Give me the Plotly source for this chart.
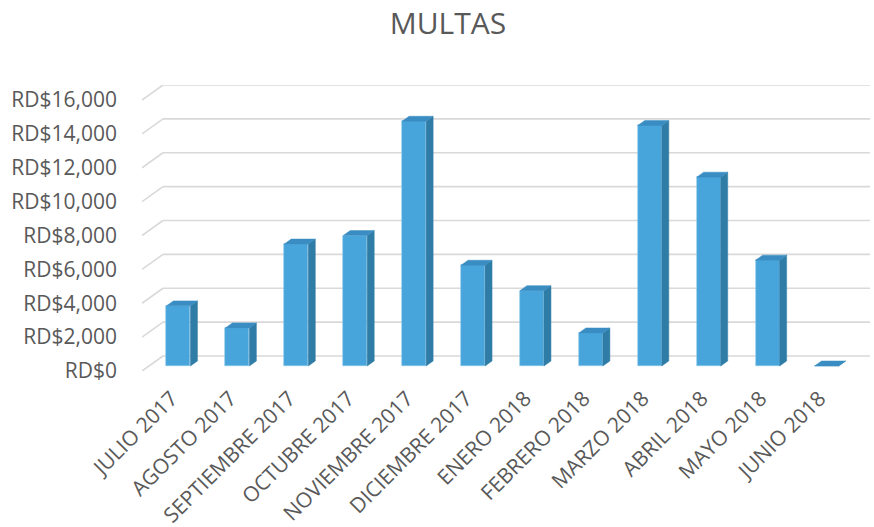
import plotly.graph_objects as go

months = ["JULIO 2017", "AGOSTO 2017", "SEPTIEMBRE 2017", "OCTUBRE 2017", "NOVIEMBRE 2017",
          "DICIEMBRE 2017", "ENERO 2018", "FEBRERO 2018", "MARZO 2018", "ABRIL 2018",
          "MAYO 2018", "JUNIO 2018"]
multas = [3550, 2250, 7200, 7700, 14450, 5950, 4450, 1950, 14200, 11150, 6250, 0]
y_ticks = [0, 2000, 4000, 6000, 8000, 10000, 12000, 14000, 16000]
y_labels = ["RD$" + f"{v:,}" for v in y_ticks]

# oblique 3-D projection parameters (axis units)
DX = 0.3565        # depth offset along x (categories)
DY = 885           # depth offset along y (value units)
BW = 0.4075        # bar width
F0, F1 = 1/3, 2/3  # bar front / back depth fraction

FRONT = "#47A5DC"
SIDE = "#2F7DA6"
TOP = "#3A8DC2"
GRID = "#D9D9D9"
TXT = "#595959"

fig = go.Figure()

# back wall gridlines + left wall diagonals
shapes = []
for v in y_ticks:
    shapes.append(dict(type="line", xref="x", yref="y", x0=-0.5 + DX, x1=11.5 + DX,
                       y0=v + DY, y1=v + DY, line=dict(color=GRID, width=1.6), layer="below"))
    shapes.append(dict(type="line", xref="x", yref="y", x0=-0.5, x1=-0.5 + DX,
                       y0=v, y1=v + DY, line=dict(color=GRID, width=1.6), layer="below"))

xs = list(range(len(months)))

# front faces
fig.add_trace(go.Bar(
    x=[i + DX * F0 for i in xs], y=multas, base=DY * F0, width=BW,
    marker=dict(color=FRONT, line=dict(color="#8CC6EA", width=0.6)),
    hoverinfo="skip", showlegend=False))

# side and top faces
sx, sy, tx, ty = [], [], [], []
for i, v in zip(xs, multas):
    xl = i + DX * F0 - BW / 2
    xr = i + DX * F0 + BW / 2
    b0 = DY * F0
    t0 = DY * F0 + v
    ddx = DX * (F1 - F0)
    ddy = DY * (F1 - F0)
    sx += [xr, xr + ddx, xr + ddx, xr, xr, None]
    sy += [b0, b0 + ddy, t0 + ddy, t0, b0, None]
    tx += [xl, xr, xr + ddx, xl + ddx, xl, None]
    ty += [t0, t0, t0 + ddy, t0 + ddy, t0, None]

fig.add_trace(go.Scatter(x=sx, y=sy, mode="lines", fill="toself", fillcolor=SIDE,
                         line=dict(color=SIDE, width=0.5), hoverinfo="skip", showlegend=False))
fig.add_trace(go.Scatter(x=tx, y=ty, mode="lines", fill="toself", fillcolor=TOP,
                         line=dict(color=TOP, width=0.5), hoverinfo="skip", showlegend=False))

fig.update_layout(
    width=874, height=527,
    margin=dict(l=142, r=4, t=85, b=156),
    paper_bgcolor="white", plot_bgcolor="white",
    font=dict(family="Open Sans", color=TXT, size=21),
    title=dict(text="MULTAS", x=0.5126, xref="container", xanchor="center",
               y=0.955, yref="container", yanchor="middle",
               font=dict(family="Open Sans", size=30, color=TXT)),
    shapes=shapes,
    bargap=0,
)
fig.update_xaxes(range=[-0.5, 11.5 + DX], tickvals=xs, ticktext=months, tickangle=-45,
                 showgrid=False, zeroline=False, showline=False, ticks="",
                 ticklabelstandoff=10, automargin=False, tickfont=dict(size=21, color=TXT))
fig.update_yaxes(range=[0, 16000 + DY], tickvals=y_ticks, ticktext=y_labels,
                 showgrid=False, zeroline=False, showline=False, ticks="",
                 ticklabelstandoff=24, automargin=False, tickfont=dict(size=21, color=TXT))

fig.write_html("out.html", config={"displayModeBar": False},
               post_script="document.body.style.margin='0';")
